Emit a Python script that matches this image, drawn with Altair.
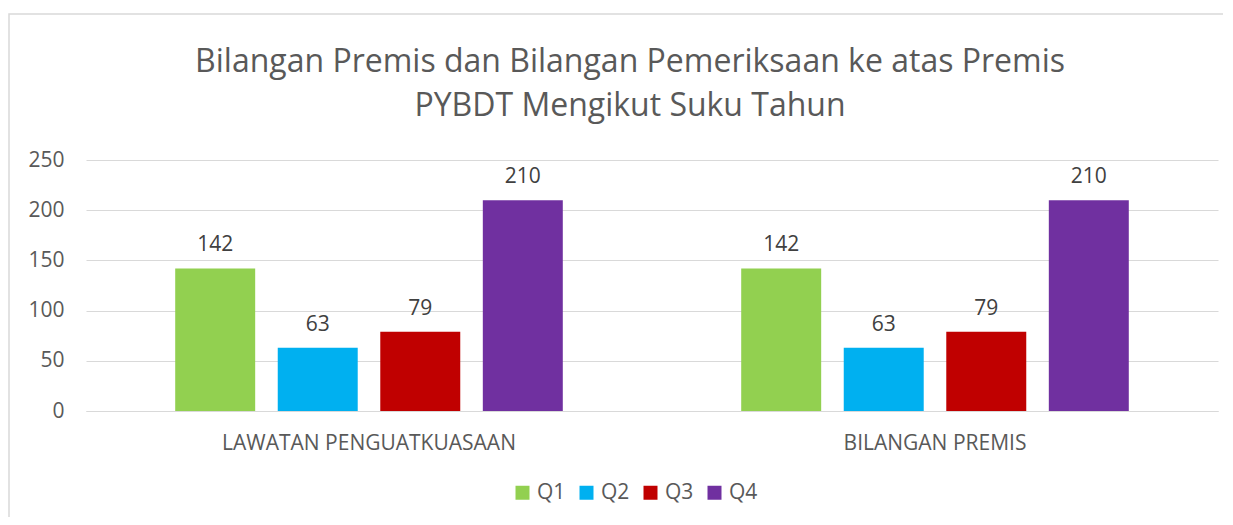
import altair as alt
import pandas as pd

categories = ["LAWATAN PENGUATKUASAAN", "BILANGAN PREMIS"]
quarters = ["Q1", "Q2", "Q3", "Q4"]
values_lawatan = [142, 63, 79, 210]
values_premis = [142, 63, 79, 210]
colors = ["#92D050", "#00B0F0", "#C00000", "#7030A0"]

rows = []
for cat, vals in zip(categories, [values_lawatan, values_premis]):
    for q, v in zip(quarters, vals):
        rows.append({"category": cat, "quarter": q, "value": v})
df = pd.DataFrame(rows)

FONT = "Open Sans"
GREY = "#595959"
FS = 21

x = alt.X("category:N", sort=categories, title=None,
          scale=alt.Scale(paddingInner=0, paddingOuter=0),
          axis=alt.Axis(labelAngle=0, labelFontSize=FS, labelColor=GREY, labelFont=FONT,
                        labelPadding=21, labelLimit=0, ticks=False,
                        domainColor="#d9d9d9", domainWidth=1))
xo = alt.XOffset("quarter:N", sort=quarters,
                 scale=alt.Scale(paddingInner=0.22, paddingOuter=0.87))
y = alt.Y("value:Q", title=None,
          scale=alt.Scale(domain=[0, 250], nice=False),
          axis=alt.Axis(values=[0, 50, 100, 150, 200, 250], labelFontSize=FS, labelColor=GREY,
                        labelFont=FONT, labelPadding=22, ticks=False, domain=False,
                        gridColor="#d9d9d9", gridWidth=1))

bars = alt.Chart(df).mark_bar().encode(
    x=x, xOffset=xo, y=y,
    color=alt.Color("quarter:N", sort=quarters,
                    scale=alt.Scale(domain=quarters, range=colors),
                    legend=alt.Legend(title=None, orient="none", legendX=426, legendY=322,
                                      direction="horizontal", symbolType="square",
                                      symbolSize=196, symbolStrokeWidth=0,
                                      labelFontSize=FS, labelColor=GREY, labelFont=FONT,
                                      columnPadding=10, labelOffset=4)),
)

labels = alt.Chart(df).mark_text(fontSize=FS, color="#404040", font=FONT,
                                 baseline="alphabetic", dy=-17).encode(
    x=alt.X("category:N", sort=categories), xOffset=xo, y=y,
    text="value:Q",
)

frame = alt.Chart(pd.DataFrame({"f": [0]})).mark_rect(
    fill=None, stroke="#d9d9d9", strokeWidth=1.5, clip=False
).encode(
    x=alt.value(-77), x2=alt.value(1200), y=alt.value(-146), y2=alt.value(450)
)

chart = alt.layer(frame, bars, labels).properties(
    width=1132, height=251,
    padding={"left": 78, "top": 152, "right": 5, "bottom": 106},
    autosize=alt.AutoSizeParams(type="none"),
    title=alt.TitleParams(
        ["Bilangan Premis dan Bilangan Pemeriksaan ke atas Premis", "PYBDT Mengikut Suku Tahun"],
        fontSize=32, font=FONT, fontWeight="normal", color=GREY, anchor="middle",
        dx=-22, offset=-110, lineHeight=44),
).configure(background="white", view={"stroke": None})

chart.save("out.html", embed_options={"renderer": "svg", "actions": False})
